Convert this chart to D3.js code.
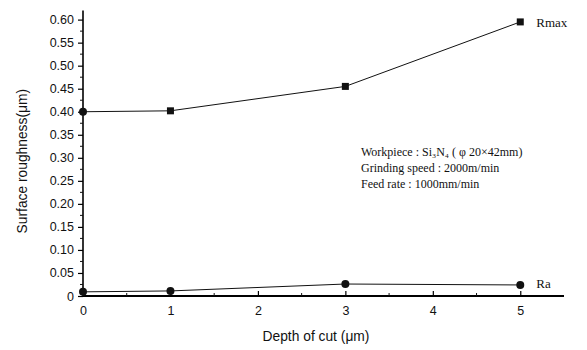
<!DOCTYPE html>
<html>
<head>
<meta charset="utf-8">
<script src="https://cdn.jsdelivr.net/npm/d3@7"></script>
<style>
  body { margin: 0; background: #fff; }
  svg { display: block; }
</style>
</head>
<body>
<svg id="chart" width="587" height="350"></svg>
<script>
// depth of cut values (um)
var depths = [0, 1, 3, 5];
var rmax = [0.400, 0.402, 0.455, 0.595];
var ra = [0.009, 0.011, 0.026, 0.024];
var xTicks = [0, 1, 2, 3, 4, 5];
var yTicks = [0, 0.05, 0.10, 0.15, 0.20, 0.25, 0.30, 0.35, 0.40, 0.45, 0.50, 0.55, 0.60];
var notes = ["Workpiece : Si\u2083N\u2084 ( \u03c6 20\u00d742mm)", "Grinding speed : 2000m/min", "Feed rate : 1000mm/min"];

var svg = d3.select("#chart");

var x = d3.scaleLinear().domain([0, 5.5]).range([83, 564]);
var y = d3.scaleLinear().domain([0, 0.62]).range([296, 10.4]);

// y axis
var yAxis = d3.axisLeft(y)
  .tickValues(yTicks)
  .tickSize(5)
  .tickFormat(function(d) { return d === 0 ? "0" : d3.format(".2f")(d); });
var gy = svg.append("g").attr("transform", "translate(" + x(0) + ",0)").call(yAxis);
gy.select(".domain").attr("d", "M0," + y(0) + "V" + y(0.62)).attr("stroke-width", 1.6);
gy.selectAll(".tick line").attr("stroke-width", 1.2);
gy.selectAll("text").attr("font-family", "Liberation Sans, Arial, sans-serif").attr("font-size", 12.5).attr("fill", "#111").attr("x", -9);

// minor y ticks
svg.append("g").selectAll("line")
  .data(d3.range(0.025, 0.62, 0.05))
  .enter().append("line")
  .attr("x1", x(0) - 3).attr("x2", x(0))
  .attr("y1", function(d) { return y(d); }).attr("y2", function(d) { return y(d); })
  .attr("stroke", "#111").attr("stroke-width", 1);

// x axis
var xAxis = d3.axisBottom(x).tickValues(xTicks).tickSize(-5).tickFormat(d3.format("d"));
var gx = svg.append("g").attr("transform", "translate(0," + y(0) + ")").call(xAxis);
gx.select(".domain").attr("d", "M" + x(0) + ",0H" + x(5.5)).attr("stroke-width", 1.8);
gx.selectAll(".tick line").attr("stroke-width", 1.2);
gx.selectAll("text").attr("font-family", "Liberation Sans, Arial, sans-serif").attr("font-size", 12.5).attr("fill", "#111").attr("y", 10);

// minor x ticks
svg.append("g").selectAll("line")
  .data(d3.range(0.5, 5.5, 1))
  .enter().append("line")
  .attr("x1", function(d) { return x(d); }).attr("x2", function(d) { return x(d); })
  .attr("y1", y(0)).attr("y2", y(0) - 3)
  .attr("stroke", "#111").attr("stroke-width", 1);

// axis titles
svg.append("text")
  .attr("transform", "translate(27," + ((y(0) + y(0.62)) / 2 + 8) + ") rotate(-90)")
  .attr("text-anchor", "middle")
  .attr("font-family", "Liberation Sans, Arial, sans-serif").attr("font-size", 13.8).attr("fill", "#111")
  .text("Surface roughness(\u03bcm)");
svg.append("text")
  .attr("x", 316).attr("y", 341)
  .attr("text-anchor", "middle")
  .attr("font-family", "Liberation Sans, Arial, sans-serif").attr("font-size", 13.8).attr("fill", "#111")
  .text("Depth of cut (\u03bcm)");

var line = d3.line()
  .x(function(d) { return x(d[0]); })
  .y(function(d) { return y(d[1]); });

var rmaxPts = depths.map(function(d, i) { return [d, rmax[i]]; });
var raPts = depths.map(function(d, i) { return [d, ra[i]]; });

svg.append("path").datum(rmaxPts).attr("d", line)
  .attr("fill", "none").attr("stroke", "#111").attr("stroke-width", 1);
svg.append("path").datum(raPts).attr("d", line)
  .attr("fill", "none").attr("stroke", "#111").attr("stroke-width", 1);

// Rmax markers: squares (the one sitting on the axis shows as a dot)
svg.append("g").selectAll("rect")
  .data(rmaxPts.slice(1))
  .enter().append("rect")
  .attr("x", function(d) { return x(d[0]) - 3.5; })
  .attr("y", function(d) { return y(d[1]) - 3.5; })
  .attr("width", 7).attr("height", 7)
  .attr("fill", "#111");
svg.append("circle")
  .attr("cx", x(rmaxPts[0][0])).attr("cy", y(rmaxPts[0][1]))
  .attr("r", 4).attr("fill", "#111");

// Ra markers: circles
svg.append("g").selectAll("circle")
  .data(raPts)
  .enter().append("circle")
  .attr("cx", function(d) { return x(d[0]); })
  .attr("cy", function(d) { return y(d[1]); })
  .attr("r", 4)
  .attr("fill", "#111");

// series labels
svg.append("text")
  .attr("x", x(5) + 16).attr("y", y(rmax[3]) + 5)
  .attr("font-family", "Liberation Serif, Times New Roman, serif").attr("font-size", 13).attr("fill", "#111")
  .text("Rmax");
svg.append("text")
  .attr("x", x(5) + 16).attr("y", y(ra[3]) + 3)
  .attr("font-family", "Liberation Serif, Times New Roman, serif").attr("font-size", 13).attr("fill", "#111")
  .text("Ra");

// conditions note
svg.append("g").selectAll("text")
  .data(notes)
  .enter().append("text")
  .attr("x", 361)
  .attr("y", function(d, i) { return 156 + i * 16; })
  .attr("font-family", "Liberation Serif, Times New Roman, serif").attr("font-size", 12).attr("fill", "#111")
  .text(function(d) { return d; });
</script>
</body>
</html>
